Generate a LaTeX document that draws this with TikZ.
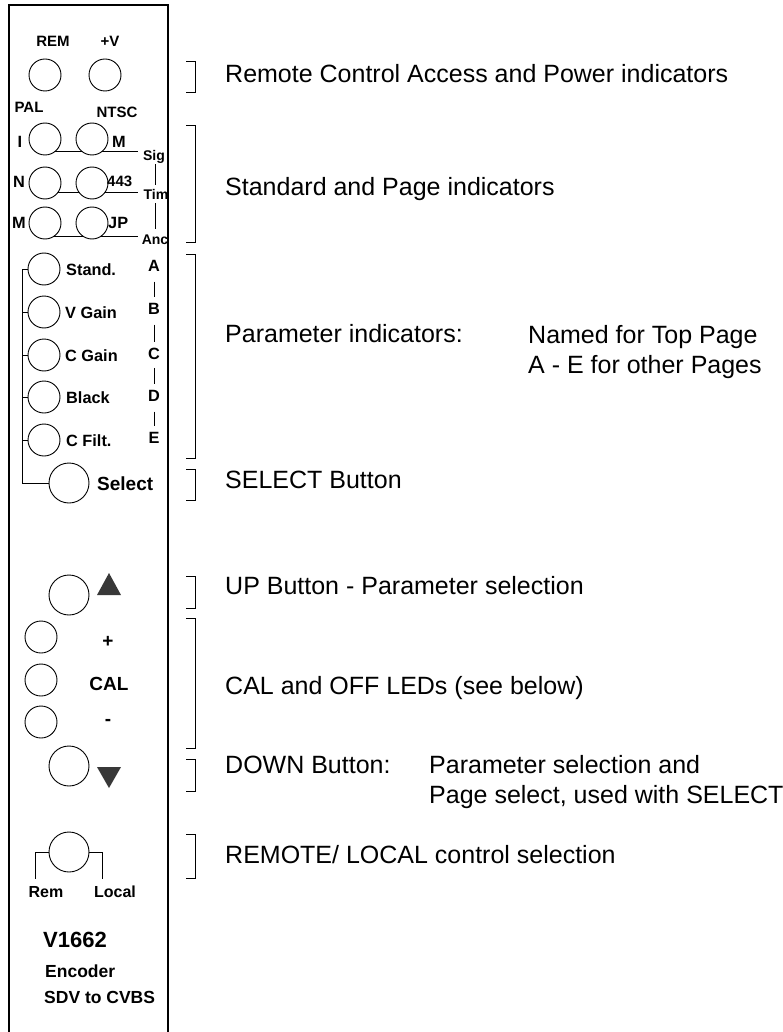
\documentclass[tikz,border=0pt]{standalone}
\usepackage{fontspec}
\setmainfont{Liberation Sans}
\usetikzlibrary{backgrounds}
\begin{document}
\begin{tikzpicture}[x=1pt,y=-1pt,
  led/.style={circle,draw,fill=white,inner sep=0pt,minimum size=32pt,line width=0.9pt},
  btn/.style={led,minimum size=40pt},
  plab/.style={inner sep=0pt,font=\fontsize{15}{18}\selectfont\bfseries},
  qlab/.style={inner sep=0pt,font=\fontsize{16.3}{19}\selectfont\bfseries},
  slab/.style={inner sep=0pt,font=\fontsize{14}{17}\selectfont\bfseries},
  blab/.style={inner sep=0pt,font=\fontsize{19}{22}\selectfont\bfseries},
  desc/.style={inner sep=0pt,anchor=base west,font=\fontsize{25}{30}\selectfont},
  brk/.style={line width=0.9pt},
  wire/.style={line width=0.9pt},
  tri/.style={fill=black!78}]
\useasboundingbox (0,0) rectangle (783,1032);
% panel
\draw[line width=1.6pt] (9,1032) -- (9,5) -- (168,5) -- (168,1032);

% top indicators
\node[plab,anchor=base] (remlab) at (53,47) {REM};
\node[plab,anchor=base] (pvlab) at (110,47) {+V};
\node[led] (remled) at (45,75) {};
\node[led] (pvled) at (105,75) {};
\node[plab,anchor=base] (pal) at (29,113) {PAL};
\node[plab,anchor=base] (ntsc) at (117,118) {NTSC};

% standard rows
\node[led] (s1l) at (45,139) {};
\node[led] (s1r) at (92,139) {};
\node[led] (s2l) at (45,183) {};
\node[led] (s2r) at (92,183) {};
\node[led] (s3l) at (45,223) {};
\node[led] (s3r) at (92,223) {};
\node[qlab,anchor=base] (lI) at (20,148) {I};
\node[qlab,anchor=base west] (lM1) at (112,148) {M};
\node[qlab,anchor=base] (lN) at (19,188) {N};
\node[plab,anchor=base west] (l443) at (107,187) {443};
\node[qlab,anchor=base] (lM2) at (19,229) {M};
\node[qlab,anchor=base west] (lJP) at (108,229) {JP};
\node[slab,anchor=base] (sig) at (154,161) {Sig};
\node[slab,anchor=base] (tim) at (156,200) {Tim};
\node[slab,anchor=base] (anc) at (155,244) {Anc};
\coordinate (e1) at (138,151);
\coordinate (e2) at (138,192);
\coordinate (e3) at (138,236);
\coordinate (vx) at (155,0);
\begin{scope}[on background layer]
  \draw[wire] (s1l.center |- e1) -- (e1);
  \draw[wire] (s2l.center |- e2) -- (e2);
  \draw[wire] (s3l.center |- e3) -- (e3);
\end{scope}
\draw[wire,shorten >=5pt] (sig.south -| vx) -- (tim.north -| vx);
\draw[wire,shorten <=3pt,shorten >=5pt] (tim.south -| vx) -- (anc.north -| vx);

% parameter indicators
\node[led] (p1) at (44,269) {};
\node[led] (p2) at (44,312) {};
\node[led] (p3) at (44,355) {};
\node[led] (p4) at (44,397) {};
\node[led] (p5) at (44,440) {};
\node[btn] (sel) at (69,483) {};
\node[qlab,anchor=base west] (t1) at (66,275) {Stand.};
\node[qlab,anchor=base west] (t2) at (65,318) {V Gain};
\node[qlab,anchor=base west] (t3) at (65,361) {C Gain};
\node[qlab,anchor=base west] (t4) at (66,403) {Black};
\node[qlab,anchor=base west] (t5) at (66,446) {C Filt.};
\node[blab,anchor=base west] (tsel) at (97,490) {Select};
\node[qlab,anchor=base] (pa) at (154,271.5) {A};
\node[qlab,anchor=base] (pb) at (154,314.5) {B};
\node[qlab,anchor=base] (pc) at (154,359.5) {C};
\node[qlab,anchor=base] (pd) at (154,401.5) {D};
\node[qlab,anchor=base] (pe) at (154,443.5) {E};
\draw[wire,shorten <=10pt,shorten >=6pt] (pa.south) -- (pb.north);
\draw[wire,shorten <=10pt,shorten >=6pt] (pb.south) -- (pc.north);
\draw[wire,shorten <=8pt,shorten >=6pt] (pc.south) -- (pd.north);
\draw[wire,shorten <=10pt,shorten >=6pt] (pd.south) -- (pe.north);
\coordinate (bus) at (22,269);
\draw[wire] (p1.west) -| (bus |- sel.west) -- (sel.west);
\draw[wire] (p2.west) -- (p2.west -| bus);
\draw[wire] (p3.west) -- (p3.west -| bus);
\draw[wire] (p4.west) -- (p4.west -| bus);
\draw[wire] (p5.west) -- (p5.west -| bus);

% up / cal / down
\node[btn] (up) at (69,595) {};
\fill[tri] (97,595) -- (121,595) -- (109,573) -- cycle;
\node[led] (c1) at (41,637) {};
\node[led] (c2) at (41,680) {};
\node[led] (c3) at (41,722) {};
\node[blab] (plus) at (108,642) {+};
\node[blab,anchor=base] (cal) at (109,690) {CAL};
\node[blab] (minus) at (108,722) {-};
\node[btn] (down) at (69,766) {};
\fill[tri] (97,767) -- (121,767) -- (109,788) -- cycle;

% remote / local
\node[btn] (rl) at (69,852) {};
\coordinate (remend) at (35,879);
\coordinate (locend) at (102,879);
\draw[wire] (rl.west) -| (remend);
\draw[wire] (rl.east) -| (locend);
\node[inner sep=0pt,font=\fontsize{16}{19}\selectfont\bfseries,anchor=base] (remt) at (46,897) {Rem};
\node[inner sep=0pt,font=\fontsize{16}{19}\selectfont\bfseries,anchor=base] (loct) at (115,897) {Local};
\node[inner sep=0pt,font=\fontsize{22}{26}\selectfont\bfseries,anchor=base west] (model) at (43,947) {V1662};
\node[inner sep=0pt,font=\fontsize{17.5}{21}\selectfont\bfseries,anchor=base west] (enc) at (45,977) {Encoder};
\node[inner sep=0pt,font=\fontsize{17.5}{21}\selectfont\bfseries,anchor=base west] (sdv) at (44,1003) {SDV to CVBS};

% brackets
\draw[brk] (186,61) -- (195,61) -- (195,92) -- (186,92);
\draw[brk] (186,125) -- (195,125) -- (195,242) -- (186,242);
\draw[brk] (186,254) -- (195,254) -- (195,458) -- (186,458);
\draw[brk] (186,469) -- (195,469) -- (195,500) -- (186,500);
\draw[brk] (186,576) -- (195,576) -- (195,608) -- (186,608);
\draw[brk] (186,618) -- (195,618) -- (195,748) -- (186,748);
\draw[brk] (186,759) -- (195,759) -- (195,791) -- (186,791);
\draw[brk] (186,834) -- (195,834) -- (195,878) -- (186,878);

% descriptions
\node[desc] (d1) at (225,83) {Remote Control Access and Power indicators};
\node[desc] (d2) at (225,196) {Standard and Page indicators};
\node[desc] (d3) at (225,342) {Parameter indicators:};
\node[desc] (d3a) at (528,343) {Named for Top Page};
\node[desc] (d3b) at (528,373) {A - E for other Pages};
\node[desc] (d4) at (225,488) {SELECT Button};
\node[desc] (d5) at (225,594) {UP Button - Parameter selection};
\node[desc] (d6) at (225,694) {CAL and OFF LEDs (see below)};
\node[desc] (d7) at (225,773) {DOWN Button:};
\node[desc] (d7a) at (429,773) {Parameter selection and};
\node[desc] (d7b) at (429,803) {Page select, used with SELECT};
\node[desc] (d8) at (225,863) {REMOTE/ LOCAL control selection};
\end{tikzpicture}
\end{document}
